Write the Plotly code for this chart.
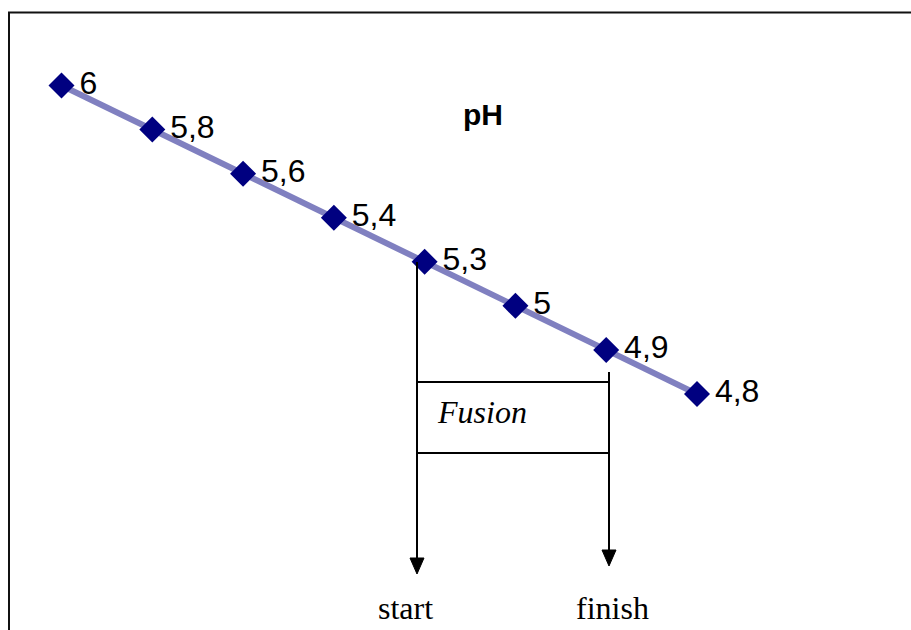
import plotly.graph_objects as go

# Data
steps = [1, 2, 3, 4, 5, 6, 7, 8]
ph_position = [6.0, 5.8, 5.6, 5.4, 5.2, 5.0, 4.8, 4.6]   # vertical placement as drawn
ph_labels = ["6", "5,8", "5,6", "5,4", "5,3", "5", "4,9", "4,8"]
title_text = "pH"
box_text = "Fusion"
start_text = "start"
finish_text = "finish"

W, H = 911, 630

def px(x):
    return x / W

def py(y):
    return 1 - y / H

fig = go.Figure()
fig.add_trace(go.Scatter(
    x=steps, y=ph_position,
    mode="lines+markers",
    line=dict(color="#8080C0", width=6),
    marker=dict(symbol="diamond", size=20, color="#000080"),
    cliponaxis=False,
    hoverinfo="skip",
))
# data labels (invisible larger markers give the label gap)
fig.add_trace(go.Scatter(
    x=steps, y=ph_position, text=ph_labels,
    mode="markers+text",
    textposition="middle right",
    textfont=dict(family="Liberation Sans, Arial", size=32, color="black"),
    marker=dict(symbol="diamond", size=27, color="rgba(0,0,0,0)"),
    cliponaxis=False,
    hoverinfo="skip",
))

shapes = []
# outer frame
shapes.append(dict(type="rect", xref="paper", yref="paper",
                   x0=px(9), x1=px(930), y0=py(12.5), y1=py(660),
                   line=dict(color="#111", width=2)))
# Fusion box
shapes.append(dict(type="rect", xref="paper", yref="paper",
                   x0=px(417), x1=px(609), y0=py(382), y1=py(453),
                   line=dict(color="black", width=2)))
# start vertical line
shapes.append(dict(type="line", xref="paper", yref="paper",
                   x0=px(417), x1=px(417), y0=py(262), y1=py(560),
                   line=dict(color="black", width=2)))
# finish vertical line
shapes.append(dict(type="line", xref="paper", yref="paper",
                   x0=px(609), x1=px(609), y0=py(372), y1=py(552),
                   line=dict(color="black", width=2)))

def tri(xc, ytip, w=14, h=16):
    return (f"M {px(xc - w/2)} {py(ytip - h)} L {px(xc + w/2)} {py(ytip - h)} "
            f"L {px(xc)} {py(ytip)} Z")

shapes.append(dict(type="path", xref="paper", yref="paper", path=tri(417, 574),
                   fillcolor="black", line=dict(color="black", width=1)))
shapes.append(dict(type="path", xref="paper", yref="paper", path=tri(609, 566),
                   fillcolor="black", line=dict(color="black", width=1)))

annotations = [
    dict(text=f"<b>{title_text}</b>", x=px(483), y=py(114), xref="paper", yref="paper",
         showarrow=False, xanchor="center", yanchor="middle",
         font=dict(family="Liberation Sans, Arial", size=30, color="black")),
    dict(text=f"<i>{box_text}</i>", x=px(435), y=py(412), xref="paper", yref="paper",
         showarrow=False, xanchor="left", yanchor="middle",
         font=dict(family="Liberation Serif, Times New Roman", size=32, color="black")),
    dict(text=start_text, x=px(405), y=py(608), xref="paper", yref="paper",
         showarrow=False, xanchor="center", yanchor="middle",
         font=dict(family="Liberation Serif, Times New Roman", size=32, color="black")),
    dict(text=finish_text, x=px(612), y=py(608), xref="paper", yref="paper",
         showarrow=False, xanchor="center", yanchor="middle",
         font=dict(family="Liberation Serif, Times New Roman", size=32, color="black")),
]

x_scale = (697 - 61.5) / 7
y_scale = (394 - 85.5) / 1.4
fig.update_layout(
    width=W, height=H,
    margin=dict(l=0, r=0, t=0, b=0),
    paper_bgcolor="white", plot_bgcolor="white",
    showlegend=False,
    shapes=shapes,
    annotations=annotations,
    xaxis=dict(range=[1 - 61.5 / x_scale, 1 + (W - 61.5) / x_scale],
               visible=False, fixedrange=True),
    yaxis=dict(range=[6 - (H - 85.5) / y_scale, 6 + 85.5 / y_scale],
               visible=False, fixedrange=True),
)

fig.write_html("out.html", config={"displayModeBar": False},
               post_script="document.body.style.margin='0';document.body.style.overflow='hidden';")
